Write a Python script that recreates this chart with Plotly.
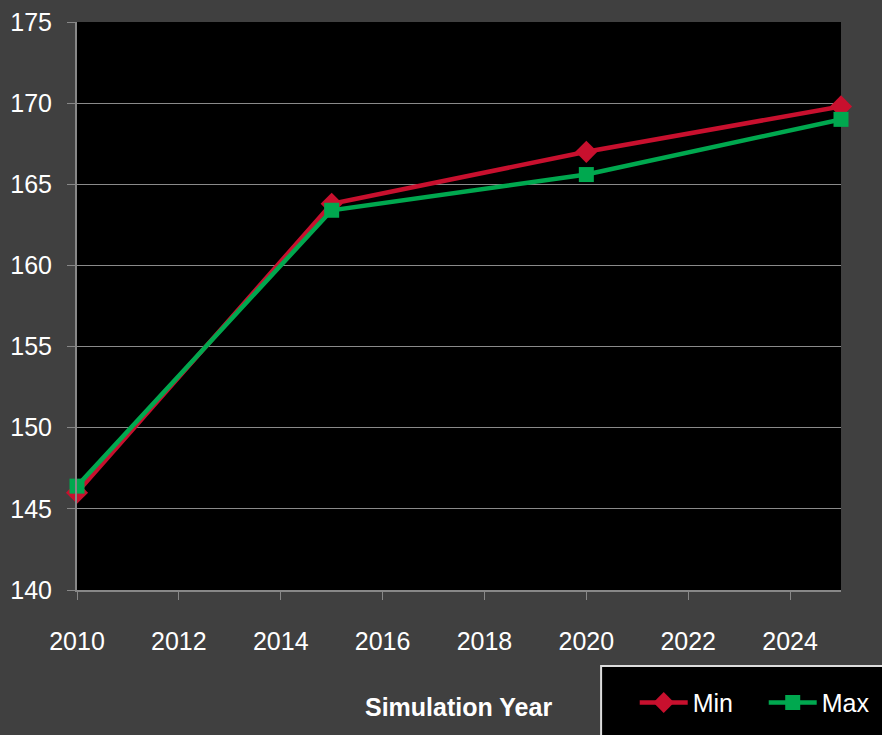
import plotly.graph_objects as go

years = [2010, 2015, 2020, 2025]
min_vals = [146.0, 163.8, 167.0, 169.8]
max_vals = [146.4, 163.4, 165.6, 169.0]
x_ticks = [2010, 2012, 2014, 2016, 2018, 2020, 2022, 2024]
y_ticks = [140, 145, 150, 155, 160, 165, 170, 175]

FONT = "Liberation Sans Narrow, Liberation Sans, sans-serif"
BG = "#404040"
RED = "#C8102E"
GREEN = "#00A84F"

fig = go.Figure()
fig.add_trace(go.Scatter(x=years, y=min_vals, name="Min", mode="lines+markers",
                         line=dict(color=RED, width=4.5),
                         marker=dict(symbol="diamond", size=17, color=RED),
                         cliponaxis=False))
fig.add_trace(go.Scatter(x=years, y=max_vals, name="Max", mode="lines+markers",
                         line=dict(color=GREEN, width=4.5),
                         marker=dict(symbol="square", size=15, color=GREEN),
                         cliponaxis=False))

fig.update_layout(
    width=882, height=735,
    margin=dict(l=77, r=41, t=22, b=145, autoexpand=False),
    paper_bgcolor=BG, plot_bgcolor="black",
    font=dict(family=FONT, color="white", size=24),
    showlegend=True,
    legend=dict(orientation="h", x=0.730, y=-0.158, xanchor="left", yanchor="top",
                bgcolor="rgba(0,0,0,0)", borderwidth=0,
                font=dict(family=FONT, size=25, color="white"),
                itemwidth=48, entrywidth=66, tracegroupgap=0),
    xaxis=dict(range=[2010, 2025], tickvals=x_ticks, automargin=False,
               showgrid=False, zeroline=False, showline=True, linecolor="#888888", linewidth=2,
               ticks="outside", ticklen=8, tickcolor="#888888", tickwidth=1,
               ticklabelstandoff=20,
               tickfont=dict(family=FONT, size=25, color="white")),
    yaxis=dict(range=[140, 175], tickvals=y_ticks, automargin=False,
               showgrid=True, gridcolor="#8a8a8a", gridwidth=1, zeroline=False,
               showline=True, linecolor="#888888", linewidth=2,
               ticks="outside", ticklen=8, tickcolor="#888888",
               ticklabelstandoff=10,
               tickfont=dict(family=FONT, size=25, color="white")),
    shapes=[dict(type="rect", xref="paper", yref="paper", x0=0.686, x1=1.2, y0=-0.134, y1=-0.5,
                 fillcolor="black", line=dict(color="#dddddd", width=2), layer="below")],
    annotations=[dict(text="<b>Simulation Year</b>", xref="paper", yref="paper", x=0.499, y=-0.206,
                      xanchor="center", yanchor="middle", showarrow=False,
                      font=dict(family=FONT, size=25, color="white"))],
)

fig.write_html("out.html", config={"displayModeBar": False},
               post_script="document.body.style.margin='0';document.body.style.padding='0';document.body.style.background='#404040';")
